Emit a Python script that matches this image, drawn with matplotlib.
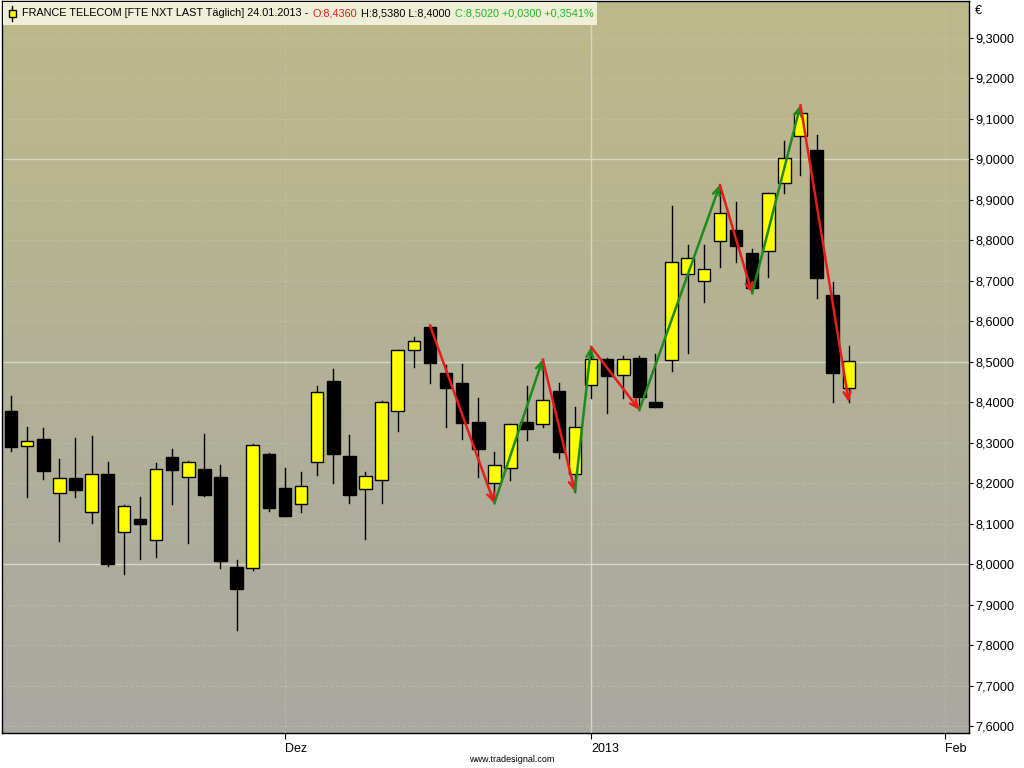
import numpy as np
import matplotlib
matplotlib.use("Agg")
import matplotlib.pyplot as plt
from matplotlib.colors import LinearSegmentedColormap
from matplotlib.patches import Rectangle
from matplotlib.lines import Line2D
from matplotlib.offsetbox import TextArea, HPacker, DrawingArea, AnchoredOffsetbox

plt.rcParams['font.family'] = ['Liberation Sans', 'DejaVu Sans']

# ---- Kursdaten FRANCE TELECOM, 08.11.2012 - 24.01.2013 (Handelstage) ----
opens  = [8.378, 8.293, 8.309, 8.176, 8.213, 8.130, 8.223, 8.080, 8.111, 8.060,
          8.265, 8.216, 8.235, 8.215, 7.993, 7.991, 8.272, 8.188, 8.148, 8.252,
          8.452, 8.267, 8.185, 8.207, 8.378, 8.528, 8.585, 8.473, 8.448, 8.351,
          8.201, 8.237, 8.350, 8.345, 8.428, 8.222, 8.442, 8.506, 8.467, 8.510,
          8.401, 8.504, 8.716, 8.700, 8.799, 8.826, 8.768, 8.773, 8.941, 9.058,
          9.023, 8.665, 8.436]
highs  = [8.416, 8.340, 8.337, 8.261, 8.311, 8.317, 8.252, 8.146, 8.165, 8.250,
          8.284, 8.255, 8.322, 8.245, 8.010, 8.296, 8.275, 8.238, 8.227, 8.441,
          8.481, 8.319, 8.227, 8.403, 8.530, 8.562, 8.590, 8.492, 8.494, 8.410,
          8.278, 8.347, 8.441, 8.506, 8.447, 8.387, 8.537, 8.508, 8.515, 8.515,
          8.518, 8.885, 8.789, 8.789, 8.937, 8.894, 8.778, 8.918, 9.045, 9.134,
          9.060, 8.696, 8.538]
lows   = [8.280, 8.165, 8.210, 8.056, 8.165, 8.102, 7.996, 7.976, 8.013, 8.018,
          8.149, 8.053, 8.168, 7.991, 7.837, 7.985, 8.132, 8.118, 8.130, 8.220,
          8.201, 8.150, 8.062, 8.150, 8.330, 8.488, 8.448, 8.340, 8.308, 8.216,
          8.150, 8.208, 8.307, 8.340, 8.263, 8.179, 8.410, 8.373, 8.410, 8.381,
          8.387, 8.477, 8.521, 8.648, 8.733, 8.747, 8.669, 8.710, 8.916, 8.960,
          8.658, 8.401, 8.400]
closes = [8.290, 8.304, 8.231, 8.214, 8.183, 8.222, 8.001, 8.144, 8.099, 8.235,
          8.233, 8.252, 8.171, 8.008, 7.938, 8.294, 8.139, 8.120, 8.193, 8.425,
          8.273, 8.172, 8.218, 8.401, 8.528, 8.551, 8.498, 8.436, 8.349, 8.285,
          8.244, 8.345, 8.335, 8.405, 8.278, 8.340, 8.506, 8.466, 8.506, 8.414,
          8.389, 8.747, 8.756, 8.728, 8.867, 8.787, 8.681, 8.916, 9.002, 9.114,
          8.708, 8.471, 8.502]

# ZigZag-Wendepunkte (Kerzenindex, Kurs)
zz_idx   = [26, 30, 33, 35, 36, 39, 44, 46, 49, 52]
zz_price = [8.590, 8.150, 8.506, 8.179, 8.537, 8.381, 8.937, 8.669, 9.134, 8.400]

# Achsen
xtick_pos    = [17, 36, 58]
xtick_labels = ['Dez', '2013', 'Feb']
ytick_vals   = [7.6, 7.7, 7.8, 7.9, 8.0, 8.1, 8.2, 8.3, 8.4, 8.5,
                8.6, 8.7, 8.8, 8.9, 9.0, 9.1, 9.2, 9.3]
major_lines  = [8.0, 8.5, 9.0]

############################################
# Figure
############################################
fig = plt.figure(figsize=(10.24, 7.68), dpi=100)
fig.patch.set_facecolor('white')
ax = fig.add_axes([2/1024, 35/768, 967/1024, 732/768])

x0, x1 = -0.56, 59.46
y0, y1 = 7.583, 9.391

# Hintergrund-Verlauf
cmap = LinearSegmentedColormap.from_list('bg', ['#a9a9a2', '#bdb98a'])
grad = np.linspace(0, 1, 256).reshape(-1, 1)
ax.imshow(grad, cmap=cmap, origin='lower', extent=[x0, x1, y0, y1],
          aspect='auto', zorder=0)

# Gitter
for v in ytick_vals:
    if v in major_lines:
        ax.axhline(v, color='#d6d6c6', lw=1.0, zorder=1)
    else:
        ax.axhline(v, color='#cdcdbb', lw=0.8, ls=(0, (3, 2)), alpha=0.4, zorder=1)
for p in xtick_pos:
    if p == 36:
        ax.axvline(p, color='#d6d6c6', lw=1.0, zorder=1)
    else:
        ax.axvline(p, color='#cdcdbb', lw=0.8, ls=(0, (3, 2)), alpha=0.4, zorder=1)

# Kerzen
w = 0.78
for i in range(len(opens)):
    o, h, l, c = opens[i], highs[i], lows[i], closes[i]
    ax.plot([i, i], [l, h], color='black', lw=1.0, zorder=2)
    col = '#ffff00' if c >= o else 'black'
    bottom = min(o, c)
    height = max(abs(c - o), 0.004)
    ax.add_patch(Rectangle((i - w/2, bottom), w, height, facecolor=col,
                           edgecolor='black', lw=1.0, zorder=3))

# ZigZag-Pfeile
for k in range(len(zz_idx) - 1):
    up = zz_price[k+1] > zz_price[k]
    col = '#1e8a1e' if up else '#e81c1c'
    ax.annotate('', xy=(zz_idx[k+1], zz_price[k+1]), xytext=(zz_idx[k], zz_price[k]),
                arrowprops=dict(arrowstyle='->,head_length=0.55,head_width=0.25',
                                color=col, lw=1.8, shrinkA=0, shrinkB=0),
                zorder=4)

ax.set_xlim(x0, x1)
ax.set_ylim(y0, y1)

# Achsen-Styling
for s in ax.spines.values():
    s.set_color('black')
    s.set_linewidth(1.0)
ax.yaxis.tick_right()
ax.set_yticks(ytick_vals)
ax.set_yticklabels([('%.4f' % v).replace('.', ',') for v in ytick_vals])
ax.tick_params(axis='y', direction='out', length=3, width=0.8, pad=1.5,
               labelsize=9.2, colors='black')
ax.set_xticks(xtick_pos)
ax.set_xticklabels(xtick_labels)
ax.tick_params(axis='x', direction='out', length=4, width=0.8, pad=3,
               labelsize=9)
for t in ax.get_xticklabels():
    t.set_horizontalalignment('left')

fig.text(975/1024, 1 - 11/768, '€', fontsize=9, va='center', ha='left')
fig.text(512/1024, 1 - 760/768, 'www.tradesignal.com', fontsize=6.5,
         va='center', ha='center')

# Legende oben links
icon = DrawingArea(8, 11, 0, 0)
icon.add_artist(Line2D([4, 4], [0, 11], color='black', lw=1))
icon.add_artist(Rectangle((1.5, 3), 5, 5, facecolor='#ffff00', edgecolor='black', lw=1))
parts = [
    ('FRANCE TELECOM [FTE NXT LAST Täglich] 24.01.2013 -', 'black'),
    ('O:8,4360', '#e81c1c'),
    ('H:8,5380 L:8,4000', 'black'),
    ('C:8,5020 +0,0300 +0,3541%', '#22b422'),
]
children = [icon] + [TextArea(t, textprops=dict(color=c, fontsize=7.8)) for t, c in parts]
box = HPacker(children=children, align='center', pad=0, sep=3)
anch = AnchoredOffsetbox(loc='upper left', child=box, pad=0.25, borderpad=0.1,
                         frameon=True, bbox_to_anchor=(0, 1),
                         bbox_transform=ax.transAxes)
anch.patch.set_facecolor('#efeed6')
anch.patch.set_edgecolor('none')
anch.zorder = 6
ax.add_artist(anch)

fig.savefig('out.png', dpi=100, facecolor='white')
